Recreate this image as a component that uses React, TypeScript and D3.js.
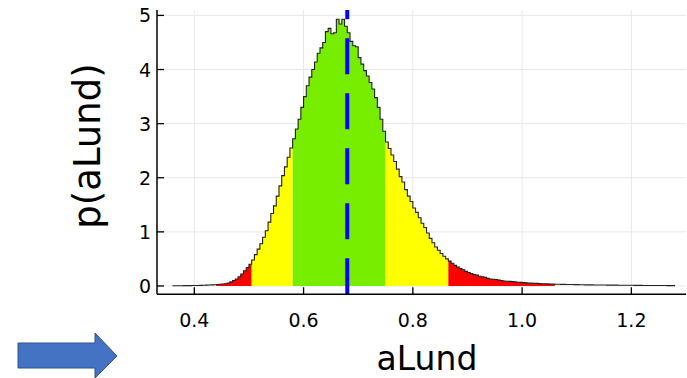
import React from 'react';
import * as d3 from 'd3';

// histogram of aLund (bin width 0.005, first bin starts at 0.36)
const binStart = 0.36;
const binWidth = 0.005;
const density = [
  0.004, 0.004, 0.005, 0.005, 0.006, 0.006, 0.007, 0.008, 0.009, 0.010,
  0.011, 0.013, 0.015, 0.017, 0.020, 0.023, 0.027, 0.031, 0.036, 0.042,
  0.055, 0.075, 0.10, 0.13, 0.17, 0.22, 0.28, 0.34, 0.40, 0.48,
  0.58, 0.68, 0.78, 0.90, 1.02, 1.18, 1.34, 1.48, 1.66, 1.85,
  2.04, 2.20, 2.38, 2.55, 2.72, 2.90, 3.08, 3.30, 3.50, 3.70,
  3.86, 4.00, 4.14, 4.30, 4.40, 4.50, 4.70, 4.76, 4.66, 4.68,
  4.93, 4.84, 4.93, 4.80, 4.68, 4.52, 4.44, 4.42, 4.22, 4.10,
  3.98, 3.88, 3.76, 3.64, 3.48, 3.30, 3.08, 2.86, 2.66, 2.54,
  2.42, 2.30, 2.16, 2.02, 1.92, 1.78, 1.66, 1.56, 1.44, 1.36,
  1.26, 1.16, 1.08, 0.98, 0.88, 0.80, 0.72, 0.66, 0.60, 0.55,
  0.50, 0.46, 0.42, 0.38, 0.35, 0.32, 0.30, 0.27, 0.25, 0.23,
  0.21, 0.20, 0.18, 0.17, 0.16, 0.14, 0.13, 0.125, 0.12, 0.11,
  0.10, 0.092, 0.088, 0.085, 0.08, 0.075, 0.07, 0.066, 0.062, 0.058,
  0.055, 0.052, 0.049, 0.047, 0.044, 0.042, 0.040, 0.038, 0.036, 0.034,
  0.033, 0.031, 0.030, 0.029, 0.028, 0.027, 0.026, 0.025, 0.024, 0.023,
  0.022, 0.021, 0.021, 0.020, 0.019, 0.019, 0.018, 0.017, 0.017, 0.016,
  0.016, 0.015, 0.015, 0.014, 0.014, 0.013, 0.013, 0.012, 0.012, 0.011,
  0.011, 0.011, 0.010, 0.010, 0.010, 0.009, 0.009, 0.009, 0.008, 0.008,
  0.008, 0.007, 0.007, 0.007,
];

// credible interval bands
const bandEdges = [0.44, 0.505, 0.58, 0.75, 0.865, 1.06];
const bandColors = ['#ff0000', '#ffff00', '#77ee00', '#ffff00', '#ff0000'];
const meanValue = 0.68;

const xTicks = [0.4, 0.6, 0.8, 1.0, 1.2];
const yTicks = [0, 1, 2, 3, 4, 5];

const W = 687;
const H = 378;
const font = 'DejaVu Sans, sans-serif';

export default function App() {
  const x = d3.scaleLinear().domain([0.3317, 1.3]).range([157, 686]);
  const y = d3.scaleLinear().domain([-0.154, 5.1]).range([294.3, 10]);

  const pts = density.map((v, i) => ({ x: binStart + i * binWidth, v }));
  const last = pts[pts.length - 1];
  const stepPts = [...pts, { x: last.x + binWidth, v: last.v }];

  const line = d3.line<{ x: number; v: number }>()
    .x(d => x(d.x))
    .y(d => y(d.v))
    .curve(d3.curveStepAfter);

  const area = d3.area<{ x: number; v: number }>()
    .x(d => x(d.x))
    .y0(y(0))
    .y1(d => y(d.v))
    .curve(d3.curveStepAfter);

  const bandPath = (a: number, b: number) => {
    const inside = pts.filter(p => p.x + binWidth > a && p.x < b)
      .map(p => ({ x: Math.max(p.x, a), v: p.v }));
    if (!inside.length) return '';
    inside.push({ x: b, v: inside[inside.length - 1].v });
    return area(inside) || '';
  };

  const [x0, x1] = x.range();
  const [yb, yt] = y.range();

  return (
    <svg width={W} height={H} style={{ position: 'absolute', left: 0, top: 0, background: '#fff' }}>
      {/* grid */}
      {xTicks.map(t => (
        <line key={'gx' + t} x1={x(t)} x2={x(t)} y1={yb} y2={yt} stroke="#e8e8e8" strokeWidth={1} />
      ))}
      {yTicks.map(t => (
        <line key={'gy' + t} x1={x0} x2={x1} y1={y(t)} y2={y(t)} stroke="#e8e8e8" strokeWidth={1} />
      ))}

      {/* coloured bands */}
      {bandColors.map((c, i) => (
        <path key={'b' + i} d={bandPath(bandEdges[i], bandEdges[i + 1])} fill={c} />
      ))}

      {/* histogram outline */}
      <path d={line(stepPts) || ''} fill="none" stroke="#222" strokeWidth={1.1} />

      {/* mean line */}
      <line x1={x(meanValue)} x2={x(meanValue)} y1={yb} y2={yt}
        stroke="#0000ff" strokeWidth={4} strokeDasharray="36 19" />

      {/* axes */}
      <line x1={x0} x2={x0} y1={yb} y2={yt} stroke="#000" strokeWidth={1.5} />
      <line x1={x0} x2={x1} y1={yb} y2={yb} stroke="#000" strokeWidth={1.5} />
      {xTicks.map(t => (
        <g key={'tx' + t}>
          <line x1={x(t)} x2={x(t)} y1={yb} y2={yb - 7} stroke="#000" strokeWidth={1.3} />
          <text x={x(t)} y={327} textAnchor="middle" fontFamily={font} fontSize={19} fill="#000">
            {t.toFixed(1)}
          </text>
        </g>
      ))}
      {yTicks.map(t => (
        <g key={'ty' + t}>
          <line x1={x0} x2={x0 + 7} y1={y(t)} y2={y(t)} stroke="#000" strokeWidth={1.3} />
          <text x={151} y={y(t) + 7} textAnchor="end" fontFamily={font} fontSize={19} fill="#000">
            {t}
          </text>
        </g>
      ))}

      {/* axis labels */}
      <text x={427} y={370} textAnchor="middle" fontFamily={font} fontSize={33} fill="#000">aLund</text>
      <text transform="translate(100,146) rotate(-90)" textAnchor="middle" fontFamily={font} fontSize={37} fill="#000">
        p(aLund)
      </text>

      {/* arrow */}
      <path d="M18,343 L95,343 L95,333 L117,356 L95,378 L95,368 L18,368 Z"
        fill="#4472c4" stroke="#2f528f" strokeWidth={1} />
    </svg>
  );
}
